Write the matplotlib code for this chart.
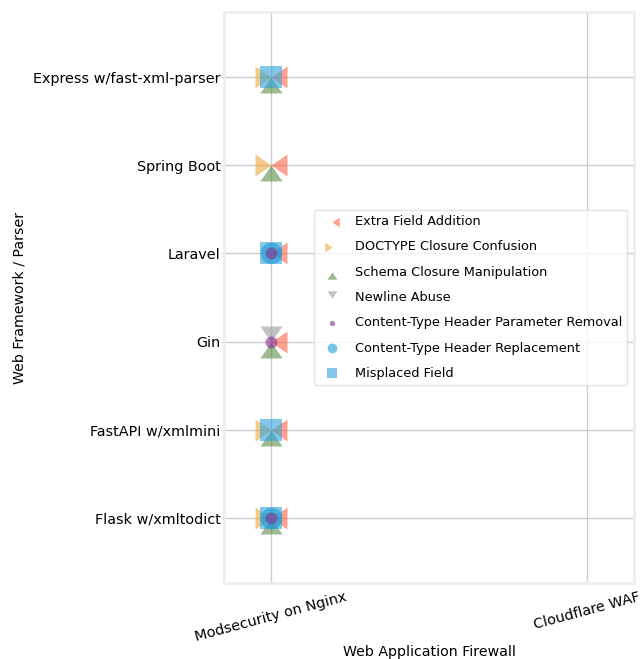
import numpy as np
import matplotlib
matplotlib.use("Agg")
import matplotlib.pyplot as plt

# frameworks top -> bottom, and the two WAFs tested
frameworks = ["Express w/fast-xml-parser", "Spring Boot", "Laravel", "Gin",
              "FastAPI w/xmlmini", "Flask w/xmltodict"]
wafs = ["Modsecurity on Nginx", "Cloudflare WAF"]

attacks = ["Extra Field Addition", "DOCTYPE Closure Confusion",
           "Schema Closure Manipulation", "Newline Abuse",
           "Content-Type Header Parameter Removal",
           "Content-Type Header Replacement", "Misplaced Field"]

# successful bypasses: attack -> list of (framework, waf)
bypasses = {
    "Extra Field Addition": [(f, "Modsecurity on Nginx") for f in frameworks],
    "DOCTYPE Closure Confusion": [("Express w/fast-xml-parser", "Modsecurity on Nginx"),
                                  ("Spring Boot", "Modsecurity on Nginx"),
                                  ("FastAPI w/xmlmini", "Modsecurity on Nginx"),
                                  ("Flask w/xmltodict", "Modsecurity on Nginx")],
    "Schema Closure Manipulation": [("Express w/fast-xml-parser", "Modsecurity on Nginx"),
                                    ("Spring Boot", "Modsecurity on Nginx"),
                                    ("Gin", "Modsecurity on Nginx"),
                                    ("FastAPI w/xmlmini", "Modsecurity on Nginx"),
                                    ("Flask w/xmltodict", "Modsecurity on Nginx")],
    "Newline Abuse": [("Gin", "Modsecurity on Nginx")],
    "Content-Type Header Parameter Removal": [("Laravel", "Modsecurity on Nginx"),
                                              ("Gin", "Modsecurity on Nginx"),
                                              ("Flask w/xmltodict", "Modsecurity on Nginx")],
    "Content-Type Header Replacement": [("Laravel", "Modsecurity on Nginx"),
                                        ("Flask w/xmltodict", "Modsecurity on Nginx")],
    "Misplaced Field": [("Express w/fast-xml-parser", "Modsecurity on Nginx"),
                        ("Laravel", "Modsecurity on Nginx"),
                        ("FastAPI w/xmlmini", "Modsecurity on Nginx"),
                        ("Flask w/xmltodict", "Modsecurity on Nginx")],
}

# half-triangles with their tip on the point, so they form a bow tie
tri_left = [(0, 0), (1, 0.69), (1, -0.69)]
tri_right = [(0, 0), (-1, 0.69), (-1, -0.69)]
tri_up = [(0, 0), (0.69, -1), (-0.69, -1)]
tri_down = [(0, 0), (0.69, 1), (-0.69, 1)]

styles = {
    "Extra Field Addition": dict(marker=tri_left, s=530, color="#FF6347", z=3),
    "DOCTYPE Closure Confusion": dict(marker=tri_right, s=530, color="#EBA93C", z=3),
    "Schema Closure Manipulation": dict(marker=tri_up, s=530, color="#5E8C4A", z=3),
    "Newline Abuse": dict(marker=tri_down, s=530, color="#9A9A9A", z=3),
    "Content-Type Header Parameter Removal": dict(marker="o", s=75, color="#84318F", z=5),
    "Content-Type Header Replacement": dict(marker="o", s=240, color="#1E9BD7", z=4),
    "Misplaced Field": dict(marker="s", s=250, color="#2FA3DC", z=3),
}

fig = plt.figure(figsize=(6.41, 6.59), dpi=100)
ax = fig.add_axes([0.3495, 0.1153, 0.6395, 0.8665])

for atk in attacks:
    pts = bypasses[atk]
    xs = [wafs.index(w) for f, w in pts]
    ys = [frameworks.index(f) for f, w in pts]
    st = styles[atk]
    ax.scatter(xs, ys, marker=st["marker"], s=st["s"], color=st["color"],
               alpha=0.6, linewidths=0, label=atk, zorder=st["z"])

ax.set_xlim(-0.149, 1.149)
ax.set_ylim(5.74, -0.74)
ax.set_xticks(range(len(wafs)))
ax.set_xticklabels(wafs, rotation=15, fontsize=10.4)
ax.set_yticks(range(len(frameworks)))
ax.set_yticklabels(frameworks, fontsize=10.4)
ax.set_xlabel("Web Application Firewall", fontsize=10.2, labelpad=1)
ax.set_ylabel("Web Framework / Parser", fontsize=10.2, labelpad=5)

ax.grid(True, color="#cccccc", linewidth=1, zorder=0)
ax.set_axisbelow(True)
for sp in ax.spines.values():
    sp.set_color("#eeeeee")
    sp.set_linewidth(2)
ax.tick_params(axis="x", length=0, pad=5)
ax.tick_params(axis="y", length=2, color="#cccccc", pad=0.5)

ax.legend(loc="center right", fontsize=9.3, markerscale=0.45, labelspacing=0.95,
          edgecolor="#dddddd", scatterpoints=1)

fig.savefig("out.png", dpi=100)
